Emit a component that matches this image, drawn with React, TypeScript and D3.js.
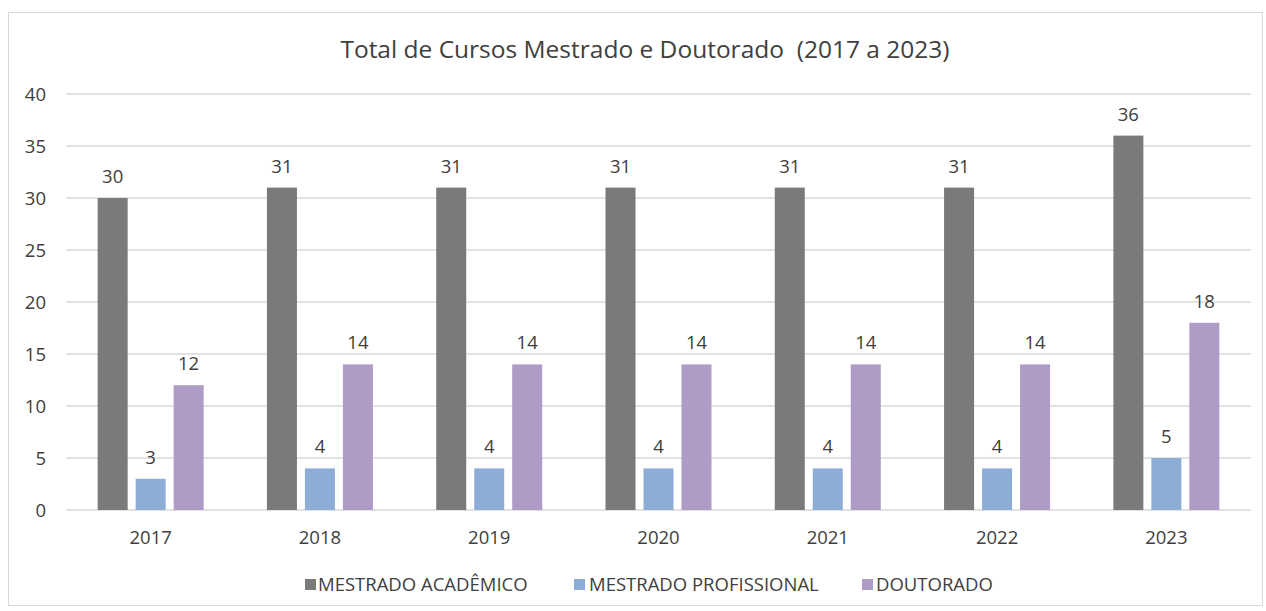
import { useMemo } from "react";
import * as d3 from "d3";

const years = ["2017", "2018", "2019", "2020", "2021", "2022", "2023"];
const seriesNames = ["MESTRADO ACADÊMICO", "MESTRADO PROFISSIONAL", "DOUTORADO"];
const mestradoAcademico = [30, 31, 31, 31, 31, 31, 36];
const mestradoProfissional = [3, 4, 4, 4, 4, 4, 5];
const doutorado = [12, 14, 14, 14, 14, 14, 18];
const yTicks = [0, 5, 10, 15, 20, 25, 30, 35, 40];
const colors = ["#7a7a7a", "#8eadd6", "#ae9bc6"];

const W = 1266;
const H = 611;
const FONT = "'Open Sans', 'Liberation Sans', sans-serif";
const TEXT = "#404040";

export default function App() {
  const margin = { top: 94, right: 15, bottom: 101, left: 66 };
  const innerW = W - margin.left - margin.right;
  const innerH = H - margin.top - margin.bottom;

  const { x, xs, y } = useMemo(() => {
    const x = d3.scaleBand().domain(years).range([0, innerW]).paddingInner(0).paddingOuter(0);
    // three bars per year, ~30px wide with ~8px gaps, centred in the band
    const xs = d3
      .scaleBand<number>()
      .domain([0, 1, 2])
      .range([x.bandwidth() / 2 - 53, x.bandwidth() / 2 + 53])
      .paddingInner(0.21);
    const y = d3.scaleLinear().domain([0, 40]).range([innerH, 0]);
    return { x, xs, y };
  }, [innerW, innerH]);

  const series = [mestradoAcademico, mestradoProfissional, doutorado];

  const legendItems = [
    { x: 305, textX: 318 },
    { x: 574, textX: 589 },
    { x: 862, textX: 876 },
  ];

  return (
    <svg width={W} height={H} style={{ position: "absolute", left: 0, top: 0 }} fontFamily={FONT}>
      <rect x={0} y={0} width={W} height={H} fill="#fff" />
      <rect x={8.5} y={12.5} width={W - 12} height={H - 18} fill="none" stroke="#d9d9d9" />
      <text x={645} y={58} textAnchor="middle" fontSize={24.5} fill={TEXT} style={{ whiteSpace: "pre" }}>
        {"Total de Cursos Mestrado e Doutorado  (2017 a 2023)"}
      </text>
      <g transform={`translate(${margin.left},${margin.top})`}>
        {yTicks.map((t) => (
          <g key={t}>
            <line x1={0} x2={innerW} y1={y(t)} y2={y(t)} stroke="#d9d9d9" strokeWidth={1.5} />
            <text x={-20} y={y(t)} dy="0.36em" textAnchor="end" fontSize={18.5} fill={TEXT}>
              {t}
            </text>
          </g>
        ))}
        {years.map((yr, i) => (
          <g key={yr} transform={`translate(${x(yr)},0)`}>
            {series.map((s, k) => (
              <g key={k}>
                <rect
                  x={xs(k)}
                  y={y(s[i])}
                  width={xs.bandwidth()}
                  height={innerH - y(s[i])}
                  fill={colors[k]}
                />
                <text
                  x={(xs(k) || 0) + xs.bandwidth() / 2}
                  y={y(s[i]) - 15}
                  textAnchor="middle"
                  fontSize={18.5}
                  fill={TEXT}
                >
                  {s[i]}
                </text>
              </g>
            ))}
            <text x={x.bandwidth() / 2} y={innerH + 34} textAnchor="middle" fontSize={18.5} fill={TEXT}>
              {yr}
            </text>
          </g>
        ))}
      </g>
      {seriesNames.map((n, k) => (
        <g key={n}>
          <rect x={legendItems[k].x} y={579} width={11} height={11} fill={colors[k]} />
          <text x={legendItems[k].textX} y={584.5} dy="0.36em" fontSize={18.5} fill={TEXT}>
            {n}
          </text>
        </g>
      ))}
    </svg>
  );
}
